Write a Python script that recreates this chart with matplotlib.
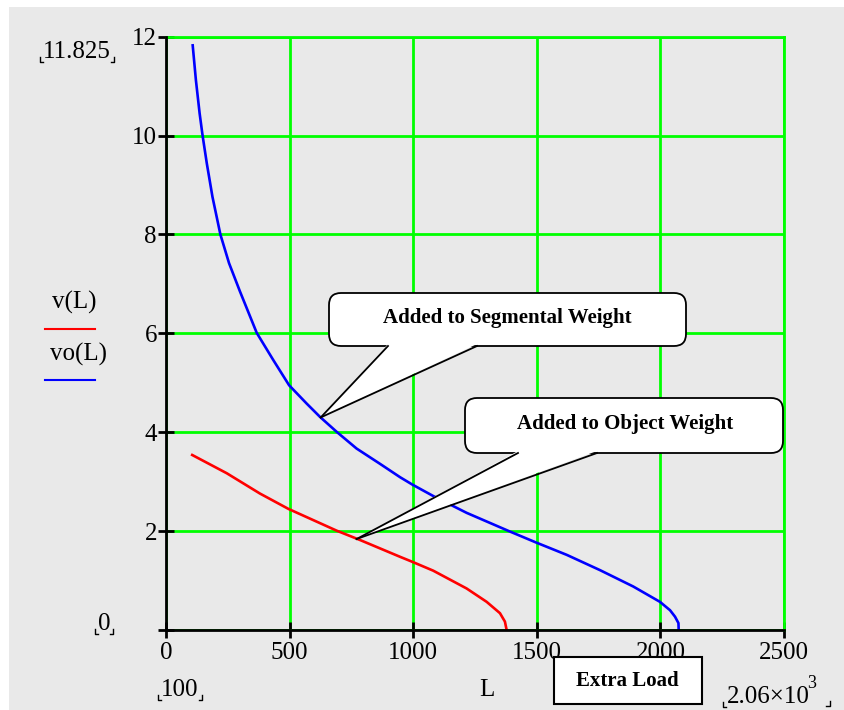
import numpy as np
import matplotlib.pyplot as plt
from matplotlib.patches import FancyBboxPatch, Polygon, Rectangle
from matplotlib.lines import Line2D
from matplotlib.transforms import IdentityTransform

# tamaño de la figura en pixeles
W, H = 844, 710
plt.rcParams['font.family'] = ['Liberation Serif', 'DejaVu Serif']

# ---- datos ----
# vo(L): carga extra sumada al peso segmental (azul)
L_vo = [108, 121, 136, 148, 165, 188, 220, 255, 299, 367, 434, 498, 569, 623, 690,
        771, 866, 947, 997, 1081, 1216, 1392, 1497, 1621, 1756, 1890, 1998, 2039,
        2059, 2073, 2074]
vo = [11.825, 11.12, 10.45, 10.0, 9.44, 8.76, 8.0, 7.42, 6.85, 6.01, 5.46, 4.95, 4.58,
      4.31, 4.01, 3.67, 3.36, 3.09, 2.94, 2.71, 2.37, 1.99, 1.77, 1.52, 1.21, 0.88,
      0.57, 0.40, 0.27, 0.14, 0.0]
# v(L): carga extra sumada al peso del objeto (rojo)
L_v = [106, 246, 380, 495, 690, 785, 947, 996, 1081, 1216, 1297, 1351, 1371, 1378]
v = [3.54, 3.17, 2.76, 2.45, 2.01, 1.82, 1.48, 1.38, 1.20, 0.84, 0.57, 0.34, 0.17, 0.0]

x_ticks = [0, 500, 1000, 1500, 2000, 2500]
y_ticks = [0, 2, 4, 6, 8, 10, 12]
y_ticklabels = ['', '2', '4', '6', '8', '10', '12']

# puntos (L, valor) a los que apuntan los globos
tip_segmental = (626, 4.30)
tip_object = (771, 1.84)

GRAY = '#e9e9e9'
GREEN = '#00ff00'

fig = plt.figure(figsize=(W / 100, H / 100), dpi=100)
fig.patch.set_facecolor('white')
pix = IdentityTransform()


def P(x, y):
    # pixel con origen arriba-izquierda -> pixel de pantalla
    return (x, H - y)


# fondo gris de la hoja
fig.add_artist(Rectangle(P(9, H), W - 9, H - 7, transform=pix,
                         facecolor=GRAY, edgecolor='none', zorder=-10))

ax = fig.add_axes([166 / W, 1 - 630 / H, (784 - 166) / W, (630 - 36.7) / H])
ax.set_facecolor(GRAY)
ax.plot(L_v, v, color='#ff0000', lw=1.9, zorder=3, solid_joinstyle='round')
ax.plot(L_vo, vo, color='#0000ff', lw=1.9, zorder=3, solid_joinstyle='round')

ax.set_xlim(0, 2500)
ax.set_ylim(0, 12)
ax.set_xticks(x_ticks)
ax.set_yticks(y_ticks)
ax.set_yticklabels(y_ticklabels)
ax.grid(True, color=GREEN, lw=2)
ax.set_axisbelow(True)
for s in ['top', 'right']:
    ax.spines[s].set_color(GREEN)
    ax.spines[s].set_linewidth(2)
for s in ['left', 'bottom']:
    ax.spines[s].set_color('black')
    ax.spines[s].set_linewidth(2)
    ax.spines[s].set_zorder(4)
ax.tick_params(axis='both', direction='inout', length=11, width=2,
               color='black', labelsize=18)
ax.tick_params(axis='x', pad=3)
ax.tick_params(axis='y', pad=1)

# ---- textos estilo Mathcad con marcas de esquina ----
renderer = fig.canvas.get_renderer()


def marked_text(x, y, s, **kw):
    t = fig.text(*P(x, y), s, transform=pix, ha='center', va='center',
                 fontsize=18, **kw)
    bb = t.get_window_extent(renderer)
    x0, x1, yb = bb.x0 - 3, bb.x1 + 3, bb.y0 + 1
    for xs, ys in ([x0, x0, x0 + 3], [yb + 5, yb, yb]), ([x1 - 3, x1, x1], [yb, yb, yb + 5]):
        fig.add_artist(Line2D(xs, ys, transform=pix, color='black', lw=1))
    return t


marked_text(77, 52, '11.825')
marked_text(104, 624, '0')
marked_text(180, 690, '100')
t1 = fig.text(*P(768, 697), '2.06×10', transform=pix, ha='center', va='center',
              fontsize=18)
fig.text(*P(812, 683), '3', transform=pix, ha='center', va='center', fontsize=13)
bb = t1.get_window_extent(renderer)
fig.add_artist(Line2D([bb.x0 - 4, bb.x0 - 4, bb.x0 - 1], [bb.y0 + 6, bb.y0 + 1, bb.y0 + 1],
                      transform=pix, color='black', lw=1))
fig.add_artist(Line2D([826, 830, 830], [H - 706, H - 706, H - 701],
                      transform=pix, color='black', lw=1))

fig.text(*P(487, 690), 'L', transform=pix, ha='center', va='center', fontsize=18)

# leyenda a la izquierda
fig.text(*P(74, 302), 'v(L)', transform=pix, ha='center', va='center', fontsize=18)
fig.add_artist(Line2D([45, 95], [H - 329, H - 329], transform=pix, color='#ff0000', lw=1.5))
fig.text(*P(78, 354), 'vo(L)', transform=pix, ha='center', va='center', fontsize=18)
fig.add_artist(Line2D([45, 95], [H - 380, H - 380], transform=pix, color='#0000ff', lw=1.5))

# caja "Extra Load"
fig.add_artist(Rectangle(P(554, 704), 148, 47, transform=pix, facecolor='white',
                         edgecolor='black', lw=1.5, zorder=5))
fig.text(*P(627, 681), 'Extra Load', transform=pix, ha='center', va='center',
         fontsize=15, fontweight='bold', zorder=6)


# ---- globos de texto ----
def callout(box, base, tip_data, label, text_xy):
    x0, y0, x1, y1 = box
    tx, ty = ax.transData.transform(tip_data)
    b1, b2 = base
    fig.add_artist(FancyBboxPatch(P(x0, y1), x1 - x0, y1 - y0, transform=pix,
                                  boxstyle='round,pad=0,rounding_size=12',
                                  facecolor='white', edgecolor='black', lw=1.3, zorder=5))
    fig.add_artist(Polygon([P(b1, y1 - 2), (tx, ty), P(b2, y1 - 2)], closed=True,
                           transform=pix, facecolor='white', edgecolor='none', zorder=6))
    for b in (b1, b2):
        fig.add_artist(Line2D([b, tx], [H - y1, ty], transform=pix, color='black',
                              lw=1.3, zorder=7))
    fig.text(*P(*text_xy), label, transform=pix, ha='center', va='center',
             fontsize=15, fontweight='bold', zorder=8)


callout((329, 293, 686, 346), (388, 477), tip_segmental,
        'Added to Segmental Weight', (507, 318))
callout((465, 398, 783, 453), (518, 597), tip_object,
        'Added to Object Weight', (625, 424))

fig.savefig('out.png', dpi=100, facecolor=fig.get_facecolor())
